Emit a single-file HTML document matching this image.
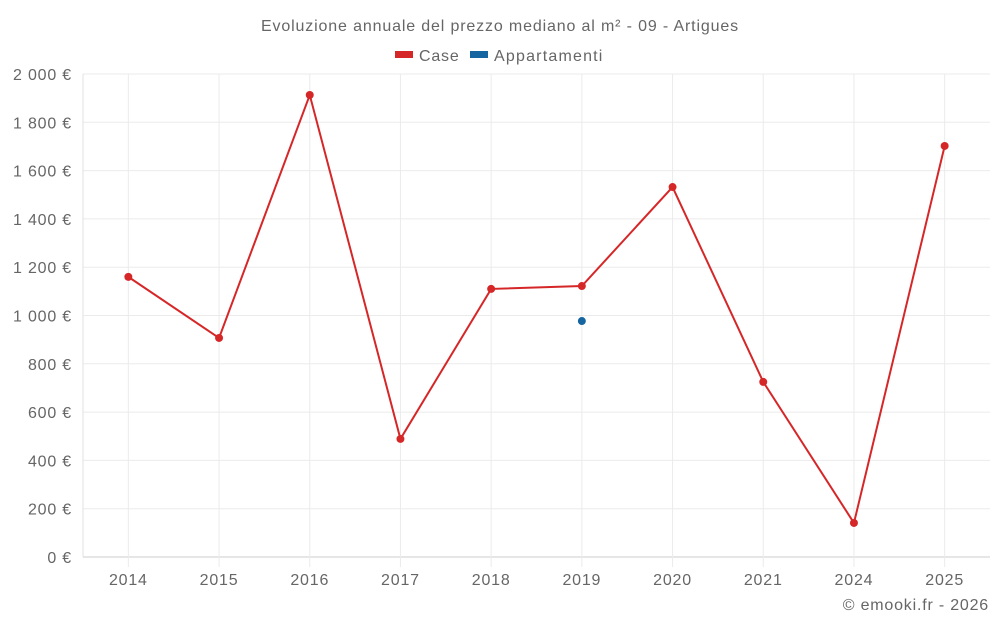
<!DOCTYPE html>
<html><head><meta charset="utf-8"><style>
body{margin:0;background:#fff;font-family:"Liberation Sans",sans-serif;}
svg text{font-family:"Liberation Sans",sans-serif;fill:#666;letter-spacing:0.8px;}
</style></head><body>
<svg id="c" width="1000" height="625">
<text x="500" y="31" text-anchor="middle" font-size="16" style="letter-spacing:0.85px">Evoluzione annuale del prezzo mediano al m² - 09 - Artigues</text>
<g>
<rect x="395" y="51" width="18" height="7" fill="#d62728"/>
<text x="419" y="61" font-size="16">Case</text>
<rect x="470" y="51" width="18" height="7" fill="#1565a0"/>
<text x="494" y="61" font-size="16" style="letter-spacing:1.2px">Appartamenti</text>
</g>
<g id="grid"></g><g id="marks"></g>
<text x="989" y="610" text-anchor="end" font-size="16">© emooki.fr - 2026</text>
</svg>
<script>
const categories=["2014","2015","2016","2017","2018","2019","2020","2021","2024","2025"];
const caseValues=[1160,907,1913,489,1110,1122,1532,725,141,1702];
const appValues=[null,null,null,null,null,977,null,null,null,null];
const yTicks=[0,200,400,600,800,1000,1200,1400,1600,1800,2000];
const yLabels=["0 €","200 €","400 €","600 €","800 €","1 000 €","1 200 €","1 400 €","1 600 €","1 800 €","2 000 €"];
const L=83,R=990,T=74,B=557;
const ns="http://www.w3.org/2000/svg";
const bw=(R-L)/categories.length;
function x(i){return L+bw*(i+0.5);}
function y(v){return B-(v/2000)*(B-T);}
const grid=document.getElementById('grid'),marks=document.getElementById('marks');
function mk(tag,a,p){const e=document.createElementNS(ns,tag);for(const k in a)e.setAttribute(k,a[k]);p.appendChild(e);return e;}
yTicks.forEach((v,i)=>{
 const l=mk('line',{x1:L,x2:R,y1:y(v),y2:y(v),stroke:i==0?'#ccc':'#ebebeb'},grid);
 
 
 const t=mk('text',{x:L-11,y:y(v)+6,'text-anchor':'end','font-size':16},grid);t.textContent=yLabels[i];
 
 
});
categories.forEach((c,i)=>{
 const l=mk('line',{x1:x(i),x2:x(i),y1:T,y2:B+10,stroke:'#ebebeb'},grid);
 
 
 const t=mk('text',{x:x(i),y:B+28,'text-anchor':'middle','font-size':16},grid);t.textContent=c;
 
 
});
const ax=mk('line',{x1:L,x2:L,y1:T,y2:B,stroke:'#e0e0e0'},grid);


const pl=mk('polyline',{points:caseValues.map((v,i)=>x(i)+','+y(v)).join(' '),fill:'none',stroke:'#d62728','stroke-width':2},marks);


caseValues.forEach((v,i)=>{const c=mk('circle',{cx:x(i),cy:y(v),r:4,fill:'#d62728'},marks);
 
 });
appValues.forEach((v,i)=>{if(v==null)return;const c=mk('circle',{cx:x(i),cy:y(v),r:4,fill:'#1565a0'},marks);
 
 });
</script>
</body></html>
